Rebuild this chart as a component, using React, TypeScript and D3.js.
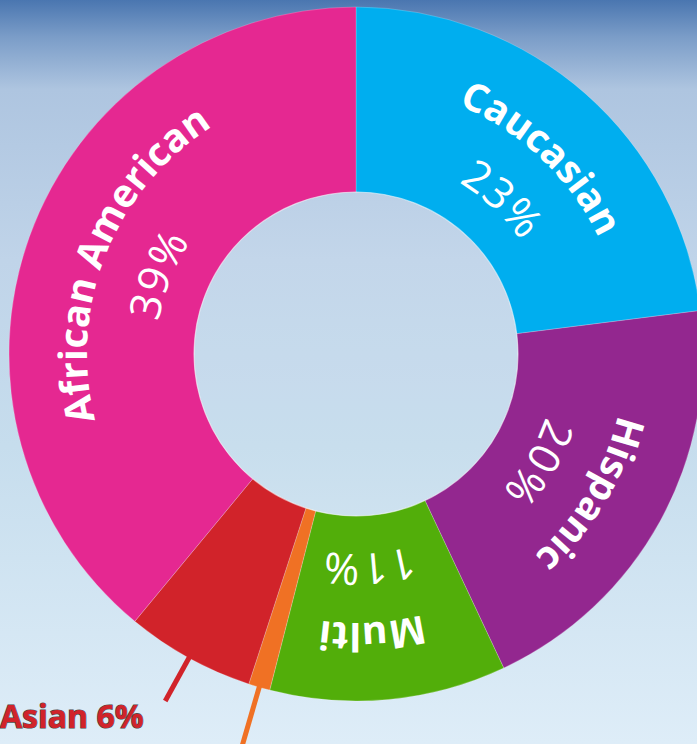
import React from "react";
import * as d3 from "d3";

const categories = ["Caucasian", "Hispanic", "Multi", "Other", "Asian", "African American"];
const values = [23, 20, 11, 1, 6, 39];
const colors = ["#00aeef", "#93278f", "#52ae0a", "#f07124", "#d1232a", "#e52891"];
const insideLabels = ["Caucasian", "Hispanic", "Multi", "African American"];
const outsideLabel = "Asian 6%";

const W = 697;
const H = 744;
const cx = 356;
const cy = 354;
const R = 347;
const r0 = 162;
const nameBase = 269;
const pctBase = 200;
const labelNudge = (2 * Math.PI) / 180;

// clockwise circular arc centred on angle a (radians, from 12 o'clock)
const arcPath = (a: number, r: number, half: number) => {
  const a1 = a - half;
  const a2 = a + half;
  const x1 = r * Math.sin(a1);
  const y1 = -r * Math.cos(a1);
  const x2 = r * Math.sin(a2);
  const y2 = -r * Math.cos(a2);
  return `M${x1},${y1} A${r},${r} 0 ${half * 2 > Math.PI ? 1 : 0} 1 ${x2},${y2}`;
};

export default function App() {
  const pie = d3.pie<number>().sort(null).value((d) => d).startAngle(0).endAngle(2 * Math.PI);
  const arcs = pie(values);
  const arc = d3.arc<d3.PieArcDatum<number>>().innerRadius(r0).outerRadius(R);

  const asianIdx = categories.indexOf("Asian");
  const otherIdx = categories.indexOf("Other");
  const leader = (i: number, r1: number, r2: number) => {
    const a = (arcs[i].startAngle + arcs[i].endAngle) / 2;
    return {
      x1: cx + r1 * Math.sin(a),
      y1: cy - r1 * Math.cos(a),
      x2: cx + r2 * Math.sin(a),
      y2: cy - r2 * Math.cos(a),
    };
  };
  const la = leader(asianIdx, 346, 396);
  const lo = leader(otherIdx, 346, 430);

  const labelled = arcs
    .map((a, i) => ({ a, i }))
    .filter((d) => insideLabels.includes(categories[d.i]));

  return (
    <div style={{ position: "fixed", left: 0, top: 0 }}>
      <svg width={W} height={H} style={{ display: "block" }}>
        <defs>
          <linearGradient id="bg" x1="0" y1="0" x2="0" y2="1">
            <stop offset="0" stopColor="#4a76b0" />
            <stop offset="0.05" stopColor="#7b9dc8" />
            <stop offset="0.12" stopColor="#aec5e0" />
            <stop offset="0.35" stopColor="#c0d4e9" />
            <stop offset="0.6" stopColor="#c6dded" />
            <stop offset="1" stopColor="#deedf8" />
          </linearGradient>
        </defs>
        <rect width={W} height={H} fill="url(#bg)" />
        <g transform={`translate(${cx},${cy})`}>
          <defs>
            {labelled.map(({ a, i }) => {
              const mid = (a.startAngle + a.endAngle) / 2 + labelNudge;
              return (
                <React.Fragment key={"p" + i}>
                  <path id={`name-path-${i}`} d={arcPath(mid, nameBase, 1.3)} fill="none" />
                  <path id={`pct-path-${i}`} d={arcPath(mid, pctBase, 1.3)} fill="none" />
                </React.Fragment>
              );
            })}
          </defs>
          {arcs.map((a, i) => (
            <path key={categories[i]} d={arc(a) || ""} fill={colors[i]} stroke="rgba(255,255,255,0.35)" strokeWidth={0.6} />
          ))}
          <circle r={r0} fill="rgba(255,255,255,0.05)" stroke="rgba(255,255,255,0.45)" strokeWidth={1.2} />
          {labelled.map(({ i }) => (
            <g key={"l" + i} fill="#fff">
              <text style={{ fontFamily: "'Open Sans'", fontWeight: 700, fontSize: 39 }}>
                <textPath href={`#name-path-${i}`} startOffset="50%" textAnchor="middle">
                  {categories[i]}
                </textPath>
              </text>
              <text style={{ fontFamily: "'Open Sans'", fontWeight: 400, fontSize: 43, letterSpacing: 1 }}>
                <textPath href={`#pct-path-${i}`} startOffset="50%" textAnchor="middle">
                  {values[i]}%
                </textPath>
              </text>
            </g>
          ))}
        </g>
        <line {...la} stroke={colors[asianIdx]} strokeWidth={5} />
        <line {...lo} stroke={colors[otherIdx]} strokeWidth={5} />
        <text
          x={0}
          y={728}
          fill="#d1232a"
          stroke="#4a4a4a"
          strokeWidth={1.2}
          paintOrder="stroke"
          style={{ fontFamily: "'Open Sans'", fontWeight: 700, fontSize: 32 }}
        >
          {outsideLabel}
        </text>
      </svg>
    </div>
  );
}
